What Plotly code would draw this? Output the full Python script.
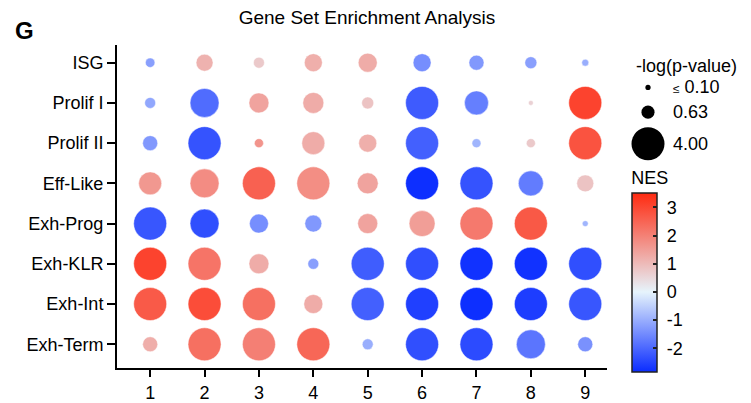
import plotly.graph_objects as go

# ---------------- data ----------------
clusters = [1, 2, 3, 4, 5, 6, 7, 8, 9]
gene_sets = ["ISG", "Prolif I", "Prolif II", "Eff-Like", "Exh-Prog", "Exh-KLR", "Exh-Int", "Exh-Term"]

# NES per gene set (rows) x cluster (columns)
nes_isg      = [-1.2, 1.15, 0.75, 1.2, 1.25, -1.45, -1.3, -1.2, -1.0]
nes_prolif1  = [-1.1, -1.93, 1.4, 1.25, 0.85, -2.17, -1.66, 0.6, 3.07]
nes_prolif2  = [-1.3, -2.28, 1.67, 1.25, 1.2, -2.1, -0.9, 0.75, 2.8]
nes_efflike  = [1.6, 1.8, 2.55, 1.78, 1.4, -2.8, -2.28, -1.7, 0.85]
nes_exhprog  = [-2.25, -2.35, -1.45, -1.3, 1.4, 1.5, 2.13, 2.7, -0.9]
nes_exhklr   = [3.07, 2.22, 1.25, -1.2, -2.15, -2.35, -2.75, -2.75, -2.35]
nes_exhint   = [2.68, 2.9, 2.3, 1.25, -2.1, -2.55, -2.8, -2.6, -2.25]
nes_exhterm  = [1.22, 2.3, 2.03, 2.45, -1.0, -2.35, -2.4, -1.8, -1.4]

# -log(p-value) per gene set x cluster
lp_isg      = [0.33, 1.06, 0.44, 1.19, 1.33, 1.19, 0.83, 0.53, 0.18]
lp_prolif1  = [0.44, 3.09, 1.47, 1.62, 0.53, 4.0, 2.12, 0.09, 4.0]
lp_prolif2  = [0.83, 4.0, 0.30, 1.94, 1.19, 4.0, 0.30, 0.30, 4.0]
lp_efflike  = [1.94, 3.09, 4.0, 4.0, 1.62, 4.0, 4.0, 2.30, 1.06]
lp_exhprog  = [4.0, 3.09, 1.33, 1.06, 1.47, 2.48, 4.0, 4.0, 0.13]
lp_exhklr   = [4.0, 4.0, 1.47, 0.44, 4.0, 4.0, 4.0, 4.0, 4.0]
lp_exhint   = [4.0, 4.0, 4.0, 1.33, 4.0, 4.0, 4.0, 4.0, 4.0]
lp_exhterm  = [0.83, 4.0, 4.0, 4.0, 0.44, 4.0, 4.0, 3.09, 0.83]

legend_values = [0.10, 0.63, 4.00]
legend_labels = ["<span style='font-size:12px'>\u2264</span> 0.10", "0.63", "4.00"]
nes_ticks = [-2, -1, 0, 1, 2, 3]

nes_rows = [nes_isg, nes_prolif1, nes_prolif2, nes_efflike, nes_exhprog, nes_exhklr, nes_exhint, nes_exhterm]
lp_rows = [lp_isg, lp_prolif1, lp_prolif2, lp_efflike, lp_exhprog, lp_exhklr, lp_exhint, lp_exhterm]

# ---------------- build ----------------
xs, ys, cs, ss = [], [], [], []
for gs, nr, lr in zip(gene_sets, nes_rows, lp_rows):
    for c, n, l in zip(clusters, nr, lr):
        xs.append(c); ys.append(gs); cs.append(n); ss.append(l)

W, H = 751, 403
ML, MR, MT, MB = 117, 0, 45, 31
PW = W - ML - MR
PH = H - MT - MB
plot_w = 490
max_d = 33
sizeref = 2 * max(legend_values) / max_d ** 2

cmin, cmax = -2.84, 3.51
z0 = (0 - cmin) / (cmax - cmin)
colorscale = [[0.0, "#0a2cff"], [z0, "#e6f4fc"], [1.0, "#ff2a10"]]

font_family = "Liberation Sans, Arial, sans-serif"
FS = 18

fig = go.Figure()
fig.add_trace(go.Scatter(
    x=xs, y=ys, mode="markers",
    marker=dict(
        size=ss, sizemode="area", sizeref=sizeref, sizemin=0,
        color=cs, colorscale=colorscale, cmin=cmin, cmax=cmax,
        line=dict(width=0.6, color="rgba(255,255,255,0.8)"),
        opacity=1,
        colorbar=dict(
            title=dict(text="NES", side="top", font=dict(size=FS, color="black")),
            x=(632 - ML) / PW, xanchor="left", xpad=0,
            y=(372 - 376) / PH, yanchor="bottom", ypad=0,
            lenmode="pixels", len=204, thickness=25,
            outlinewidth=1.5, outlinecolor="#222",
            tickvals=nes_ticks, ticktext=["\u00a0" + str(t) for t in nes_ticks],
            ticks="inside", ticklen=4, tickwidth=1.5, tickcolor="#222",
            tickfont=dict(size=FS, color="black"),
        ),
    ),
    showlegend=False, hoverinfo="skip",
))

# size legend on its own axes
legend_y = [88, 113, 145]
fig.add_trace(go.Scatter(
    x=[648] * len(legend_values), y=legend_y,
    mode="markers",
    marker=dict(size=legend_values, sizemode="area", sizeref=sizeref, color="black",
                opacity=1, line=dict(width=0)),
    xaxis="x2", yaxis="y2", showlegend=False, hoverinfo="skip",
))
for lab, yy in zip(legend_labels, legend_y):
    fig.add_annotation(text=lab, x=671, y=yy, xref="x2", yref="y2", xanchor="left",
                       showarrow=False, font=dict(size=FS, color="black"))

fig.add_annotation(text="-log(p-value)", x=686, y=66, xref="x2", yref="y2",
                   showarrow=False, font=dict(size=FS, color="black"))

fig.add_annotation(text="<b>G</b>", x=(25 - ML) / PW, y=(372 - 30) / PH, xref="paper", yref="paper",
                   xanchor="center", yanchor="middle",
                   showarrow=False, font=dict(size=24, color="black"))

fig.update_layout(
    width=W, height=H,
    margin=dict(l=ML, r=MR, t=MT, b=MB, pad=0),
    paper_bgcolor="white", plot_bgcolor="white",
    font=dict(family=font_family, color="black", size=FS),
    title=dict(text="Gene Set Enrichment Analysis", x=367 / W, xanchor="center",
               y=1 - 17 / H, yanchor="middle", yref="container",
               font=dict(size=19, color="black")),
    xaxis=dict(domain=[0, plot_w / PW], range=[0.39, 9.4],
               tickvals=clusters, ticktext=[str(c) for c in clusters],
               showline=True, linewidth=2, linecolor="black",
               ticks="outside", ticklen=7, tickwidth=1.5, tickcolor="black",
               showgrid=False, zeroline=False, tickfont=dict(size=FS)),
    yaxis=dict(type="category", categoryorder="array", categoryarray=gene_sets,
               range=[7.59, -0.44],
               showline=True, linewidth=2, linecolor="black",
               ticks="outside", ticklen=8, tickwidth=1.5, tickcolor="black",
               showgrid=False, zeroline=False, tickfont=dict(size=FS)),
    xaxis2=dict(domain=[(628 - ML) / PW, 1.0], range=[628, W], visible=False, anchor="y2"),
    yaxis2=dict(domain=[0, 1], range=[372, 45], visible=False, anchor="x2"),
)

fig.write_html("out.html")
